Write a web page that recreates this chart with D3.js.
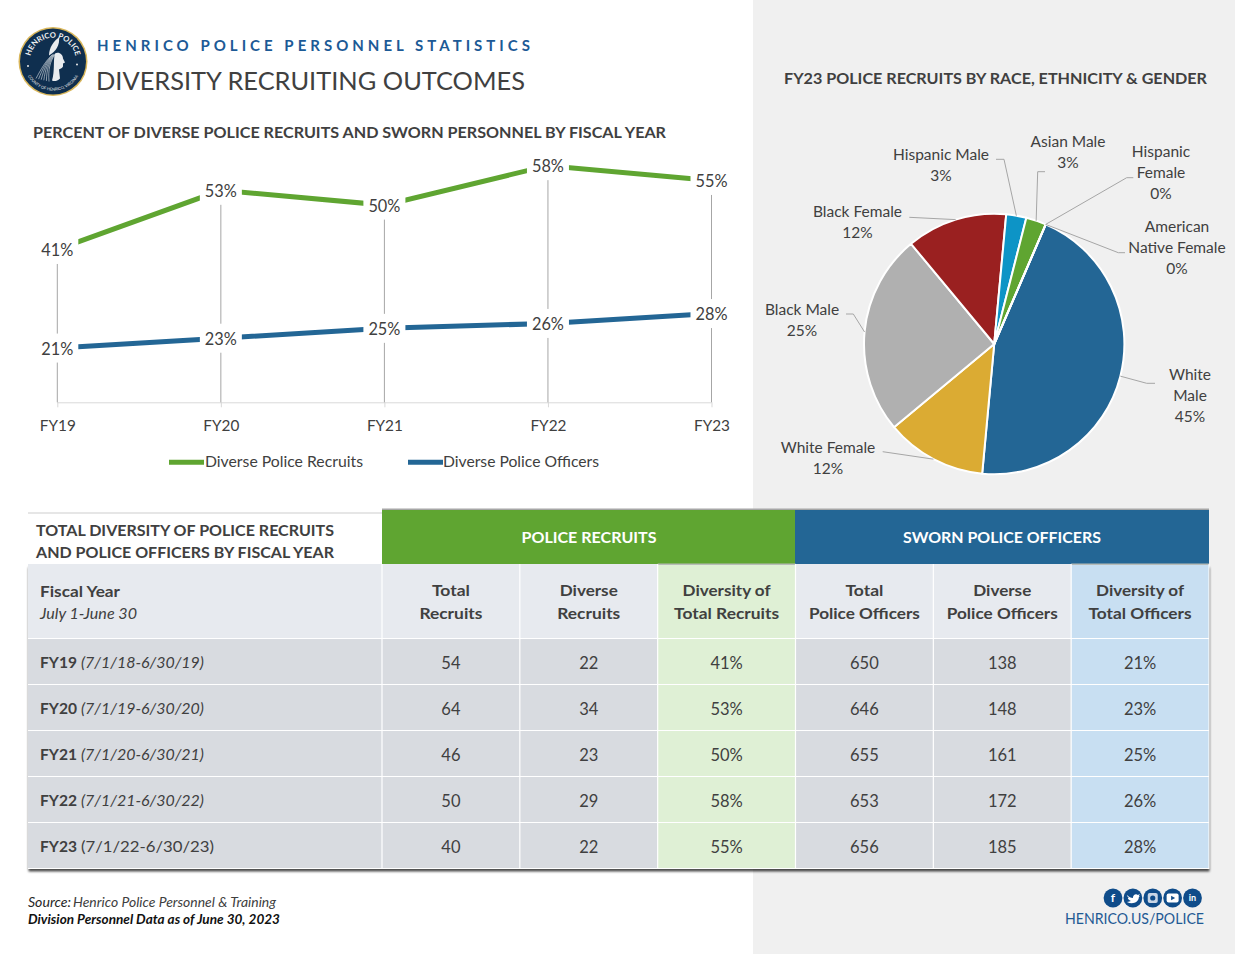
<!DOCTYPE html>
<html><head><meta charset="utf-8">
<script src="https://cdn.jsdelivr.net/npm/d3@7/dist/d3.min.js"></script>
<style>html,body{margin:0;padding:0;background:#fff;overflow:hidden}svg{display:block}text{font-family:"Lato",sans-serif}</style>
</head><body><svg id="c" width="1235" height="954"></svg>
<script>
const fiscalYears=["FY19","FY20","FY21","FY22","FY23"];
const fyDates=["(7/1/18-6/30/19)","(7/1/19-6/30/20)","(7/1/20-6/30/21)","(7/1/21-6/30/22)","(7/1/22-6/30/23)"];
const recruitPct=[41,53,50,58,55];
const officerPct=[21,23,25,26,28];
const totalRecruits=[54,64,46,50,40];
const diverseRecruits=[22,34,23,29,22];
const totalOfficers=[650,646,655,653,656];
const diverseOfficers=[138,148,161,172,185];
const pieCategories=["White Male","White Female","Black Male","Black Female","Hispanic Male","Asian Male","Hispanic Female","American Native Female"];
const pieCounts=[18,5,10,5,1,1,0,0];
const pieLabels=["45%","12%","25%","12%","3%","3%","0%","0%"];
const pieColors=["#236695","#dbab33","#b0b0b0","#9a2020","#0d94c6","#5fa531","#5fa531","#236695"];

const svg=d3.select("#c");
const DARK="#404040",GREEN="#5fa531",BLUE="#236695";
function txt(p,s,x,y,o={}){
  const t=p.append("text").attr("x",x).attr("y",y).attr("dy","0.35em")
    .attr("text-anchor",o.a||"start").attr("font-size",o.s||15).attr("fill",o.c||DARK)
    .attr("font-weight",o.b?"700":"400").attr("font-style",o.i?"italic":"normal").text(s);
  if(o.w) t.attr("textLength",o.w).attr("lengthAdjust",o.adj||"spacingAndGlyphs");
  return t;
}
const defs=svg.append("defs");
const f=defs.append("filter").attr("id","sh").attr("x","-3%").attr("y","-3%").attr("width","106%").attr("height","106%");
f.append("feDropShadow").attr("dx",0.5).attr("dy",2.5).attr("stdDeviation",1.2).attr("flood-color","#000").attr("flood-opacity",0.7);

// page background
svg.append("rect").attr("width",1235).attr("height",954).attr("fill","#fff");
svg.append("rect").attr("x",753).attr("width",482).attr("height",954).attr("fill","#f0f0f0");

// logo
const logo=svg.append("g").attr("transform","translate(53,61.5)");
logo.append("circle").attr("r",34.5).attr("fill","#d9b65a");
logo.append("circle").attr("r",33).attr("fill","#0f2f4f");
defs.append("path").attr("id","arcTop").attr("d","M-22.5,4 A23,23 0 1 1 22.5,4");
defs.append("path").attr("id","arcBot").attr("d","M-26,13 A29,29 0 0 0 26,13");
logo.append("text").attr("font-size",7.6).attr("font-weight",700).attr("fill","#f2f2f2").append("textPath").attr("href","#arcTop").attr("startOffset","50%").attr("text-anchor","middle").text("HENRICO POLICE");
logo.append("text").attr("font-size",4).attr("fill","#e6e6e6").append("textPath").attr("href","#arcBot").attr("startOffset","50%").attr("text-anchor","middle").text("COUNTY OF HENRICO, VIRGINIA");
logo.selectAll("circle.dot").data([[-25,4.5],[24,3]]).join("circle").attr("class","dot").attr("cx",d=>d[0]).attr("cy",d=>d[1]).attr("r",1).attr("fill","#e8e8e8");
logo.append("path").attr("fill","#e9ecef").attr("d","M2,-8 C6,-10 10,-7 10,-3 L12,1 L10,2 L10,5 C9,7 7,7 6,8 L7,17 C4,20 1,20 -1,19 C2,10 0,-2 2,-8Z");
logo.append("path").attr("fill","#e9ecef").attr("d","M-4,-6 C-4,-14 1,-21 6,-24 C7,-17 3,-10 -4,-6Z");
logo.append("g").attr("stroke","#dfe4e8").attr("stroke-width",0.6).attr("fill","none")
  .selectAll("path").data([0,1,2,3,4,5]).join("path").attr("d",d=>`M${2-d*0.5},-7 C${-3-d},0 ${-5-d*1.4},8 ${-4-d*2.6},${20-d*0.6}`);

// header
txt(svg,"HENRICO POLICE PERSONNEL STATISTICS",97,45.5,{s:15,b:1,c:"#1c5a96",w:433,adj:"spacing"});
txt(svg,"DIVERSITY RECRUITING OUTCOMES",96,81,{s:25.5,c:DARK,w:429});
txt(svg,"PERCENT OF DIVERSE POLICE RECRUITS AND SWORN PERSONNEL BY FISCAL YEAR",33,132.5,{s:16,b:1,w:633});
txt(svg,"FY23 POLICE RECRUITS BY RACE, ETHNICITY & GENDER",784,78.5,{s:16,b:1,w:423});

// line chart
const x=d3.scalePoint().domain(fiscalYears).range([57.3,711.5]);
const y=d3.scaleLinear().domain([10,60]).range([402.3,155.8]);
const lc=svg.append("g");
const axis=lc.append("g").attr("transform","translate(0,402.3)")
  .call(d3.axisBottom(x).tickSize(5).tickPadding(14));
axis.selectAll("path,line").attr("stroke","#d9d9d9");
axis.selectAll("text").attr("font-size",16).attr("fill",DARK).attr("dy","0.35em").attr("y",23.5).attr("textLength",36).attr("lengthAdjust","spacingAndGlyphs");
axis.select(".domain").attr("d","M57.3,0.5H711.5");
lc.selectAll("line.drop").data(fiscalYears).join("line").attr("class","drop")
  .attr("x1",d=>x(d)).attr("x2",d=>x(d)).attr("y1",(d,i)=>y(recruitPct[i])).attr("y2",y.range()[0])
  .attr("stroke","#a6a6a6").attr("stroke-width",1);
const line=d3.line().x((d,i)=>x(fiscalYears[i])).y(d=>y(d));
[[recruitPct,GREEN],[officerPct,BLUE]].forEach(([vals,col])=>{
  lc.append("path").datum(vals).attr("d",line).attr("fill","none").attr("stroke",col).attr("stroke-width",5);
});
[recruitPct,officerPct].forEach(vals=>{
  const g=lc.append("g");
  g.selectAll("rect").data(vals).join("rect").attr("x",(d,i)=>x(fiscalYears[i])-21).attr("y",d=>y(d)-14.5)
    .attr("width",42).attr("height",29).attr("fill","#fff");
  vals.forEach((v,i)=>txt(g,v+"%",x(fiscalYears[i]),y(v)+0.7,{a:"middle",s:16.5,w:32}));
});
// legend
[["Diverse Police Recruits",GREEN,169,205,158],["Diverse Police Officers",BLUE,408,443,156]].forEach(([t,c,x0,tx,w])=>{
  svg.append("line").attr("x1",x0).attr("x2",x0+35).attr("y1",462.3).attr("y2",462.3).attr("stroke",c).attr("stroke-width",5);
  txt(svg,t,tx,461.5,{s:15.5,w});
});

// pie
const cx=994.2,cy=344,R=130.2;
const pieGen=d3.pie().value(d=>d).sort(null).startAngle(23.3*Math.PI/180).endAngle((360+23.3)*Math.PI/180);
const arcs=pieGen(pieCounts);
const arc=d3.arc().innerRadius(0).outerRadius(R);
const pg=svg.append("g").attr("transform",`translate(${cx},${cy})`);
pg.selectAll("path").data(arcs).join("path").attr("d",arc).attr("fill",(d,i)=>pieColors[i])
  .attr("stroke","#fff").attr("stroke-width",2).attr("stroke-linejoin","round");
// label placement: lines of text and leader elbows, by slice order
const pieLayout=[
  {lines:["White","Male"],tx:1190,ty:375,elbow:[[1146.7,383.3],[1155,383.3]]},
  {lines:["White Female"],tx:828,ty:448,elbow:[[882.7,451.7]]},
  {lines:["Black Male"],tx:802,ty:310,elbow:[[853.3,314],[846,314]]},
  {lines:["Black Female"],tx:857.5,ty:212,elbow:[[909.3,217.3]]},
  {lines:["Hispanic Male"],tx:941,ty:155,elbow:[[1004,159.3],[996,159.3]]},
  {lines:["Asian Male"],tx:1068,ty:142,elbow:[[1037.7,171.7],[1045,171.7]]},
  {lines:["Hispanic","Female"],tx:1161,ty:152,elbow:[[1126.7,177.7],[1133.3,177.7]]},
  {lines:["American","Native Female"],tx:1177,ty:227,elbow:[[1118.3,252.7],[1125,252.7]]}
];
const leader=d3.line();
const pl=svg.append("g");
arcs.forEach((a,i)=>{
  const m=(a.startAngle+a.endAngle)/2;
  const start=[cx+R*Math.sin(m),cy-R*Math.cos(m)];
  pl.append("path").attr("d",leader([start,...pieLayout[i].elbow])).attr("fill","none").attr("stroke","#a6a6a6").attr("stroke-width",1);
  const L=pieLayout[i];
  L.lines.concat(pieLabels[i]).forEach((s,k)=>txt(pl,s,L.tx,L.ty+k*21,{a:"middle",s:15.5}));
});

// table
const metrics=["totalRecruits","diverseRecruits","recruitPct","totalOfficers","diverseOfficers","officerPct"];
const colData={totalRecruits,diverseRecruits,recruitPct:recruitPct.map(d=>d+"%"),totalOfficers,diverseOfficers,officerPct:officerPct.map(d=>d+"%")};
const colHead={totalRecruits:["Total","Recruits"],diverseRecruits:["Diverse","Recruits"],recruitPct:["Diversity of","Total Recruits"],
  totalOfficers:["Total","Police Officers"],diverseOfficers:["Diverse","Police Officers"],officerPct:["Diversity of","Total Officers"]};
const headW={"Total":38,"Recruits":63,"Diverse":58,"Diversity of":88,"Total Recruits":105,"Police Officers":111,"Total Officers":103};
const colX=d3.scaleBand().domain(metrics).range([382,1209]);
const rowY=d3.scaleBand().domain(fiscalYears).range([638.5,868.5]);
const T=svg.append("g");
T.append("rect").attr("x",28).attr("y",512).attr("width",354).attr("height",2).attr("fill","#e6e6e6");
T.append("rect").attr("x",382).attr("y",508.5).attr("width",827).attr("height",2).attr("fill","#a6a6a6");
T.append("rect").attr("x",28).attr("y",565).attr("width",1181).attr("height",304).attr("fill","#d8dbe0").attr("filter","url(#sh)");
T.append("rect").attr("x",382).attr("y",510).attr("width",413).attr("height",54).attr("fill","#5fa531");
T.append("rect").attr("x",795).attr("y",510).attr("width",414).attr("height",54).attr("fill","#236695");
T.append("rect").attr("x",28).attr("y",564).attr("width",1181).attr("height",74.5).attr("fill","#e7eaef");
const tint={recruitPct:"#dff0d5",officerPct:"#c8dff2"};
Object.keys(tint).forEach(k=>{
  T.append("rect").attr("x",colX(k)).attr("y",564).attr("width",colX.bandwidth()).attr("height",305).attr("fill",tint[k]);
  T.append("rect").attr("x",colX(k)).attr("y",563.5).attr("width",colX.bandwidth()).attr("height",1.5).attr("fill","#b8bcb8");
});
// grid
rowY.domain().forEach(d=>{
  T.append("line").attr("x1",28).attr("x2",1209).attr("y1",rowY(d)).attr("y2",rowY(d)).attr("stroke","#fff").attr("stroke-width",1.2);
});
T.append("line").attr("x1",28).attr("x2",1209).attr("y1",868.5).attr("y2",868.5).attr("stroke","#fff").attr("stroke-width",1.2);
metrics.forEach(m=>T.append("line").attr("x1",colX(m)).attr("x2",colX(m)).attr("y1",564).attr("y2",869).attr("stroke","#fff").attr("stroke-width",1.2));
T.append("line").attr("x1",1209).attr("x2",1209).attr("y1",564).attr("y2",869).attr("stroke","#fff").attr("stroke-width",1);

txt(T,"TOTAL DIVERSITY OF POLICE RECRUITS",36,530.5,{s:16,b:1,w:298});
txt(T,"AND POLICE OFFICERS BY FISCAL YEAR",36,552.5,{s:16,b:1,w:298});
txt(T,"POLICE RECRUITS",589,537.5,{a:"middle",s:16,b:1,c:"#fff",w:135});
txt(T,"SWORN POLICE OFFICERS",1002,537.5,{a:"middle",s:16,b:1,c:"#fff",w:198});
txt(T,"Fiscal Year",40,591.5,{s:16,b:1,w:80});
txt(T,"July 1-June 30",40,614,{s:15,i:1,w:97});
metrics.forEach(m=>{
  const cxm=colX(m)+colX.bandwidth()/2;
  colHead[m].forEach((s,k)=>txt(T,s,cxm,590.5+k*23,{a:"middle",s:16,b:1,w:headW[s]}));
  colData[m].forEach((v,i)=>txt(T,v,cxm,rowY(fiscalYears[i])+24.6,{a:"middle",s:16.5}));
});
fiscalYears.forEach((fy,i)=>{
  const yy=rowY(fy)+24.3;
  const last=i===fiscalYears.length-1;
  txt(T,fy,40,yy,{s:16,b:1,w:37});
  txt(T,fyDates[i],81,yy,{s:16,i:!last,w:last?133:123});
});

// footer
const src=svg.append("g");
txt(src,"Source:",28,903,{s:12.5,i:1,c:"#262626",w:43});
txt(src,"Henrico Police Personnel & Training",73,903,{s:12.5,i:1,c:"#404040",w:203});
txt(src,"Division Personnel Data as of June 30, 2023",28,920,{s:12.5,i:1,b:1,c:"#111",w:252});
txt(svg,"HENRICO.US/POLICE",1204,919,{a:"end",s:15,c:"#1f5a94",w:139});

// social icons
const NAVY="#0f4c8a";
const icons=["f","bird","ig","play","in"];
const iconX=d3.scalePoint().domain(icons).range([1113,1192.5]);
icons.forEach(n=>{
  const g=svg.append("g").attr("transform",`translate(${iconX(n)},898)`);
  g.append("circle").attr("r",9.4).attr("fill",NAVY);
  if(n==="f"||n==="in"){
    g.append("text").attr("text-anchor","middle").attr("dy","0.35em").attr("font-size",n==="f"?12:9).attr("font-weight",700).attr("fill","#fff").text(n);
  } else if(n==="bird"){
    g.append("path").attr("fill","#fff").attr("d","M-6,-3 C-4,-1 -2,0 0,0 C0,-3 3,-5 5,-3 L7,-4 L6,-2 L7,-2 L6,-1 C6,4 0,7 -6,4 C-4,4 -3,3 -2,3 C-4,2 -5,1 -5,0 L-4,0 C-5,-1 -6,-2 -6,-3Z");
  } else if(n==="ig"){
    g.append("rect").attr("x",-5).attr("y",-5).attr("width",10).attr("height",10).attr("rx",2).attr("fill","#c9d6e6");
    g.append("circle").attr("r",2.6).attr("fill",NAVY);
  } else {
    g.append("rect").attr("x",-6).attr("y",-4.5).attr("width",12).attr("height",9).attr("rx",2).attr("fill","#fff");
    g.append("path").attr("d","M-1.5,-2.2L2.5,0L-1.5,2.2Z").attr("fill",NAVY);
  }
});
</script></body></html>
